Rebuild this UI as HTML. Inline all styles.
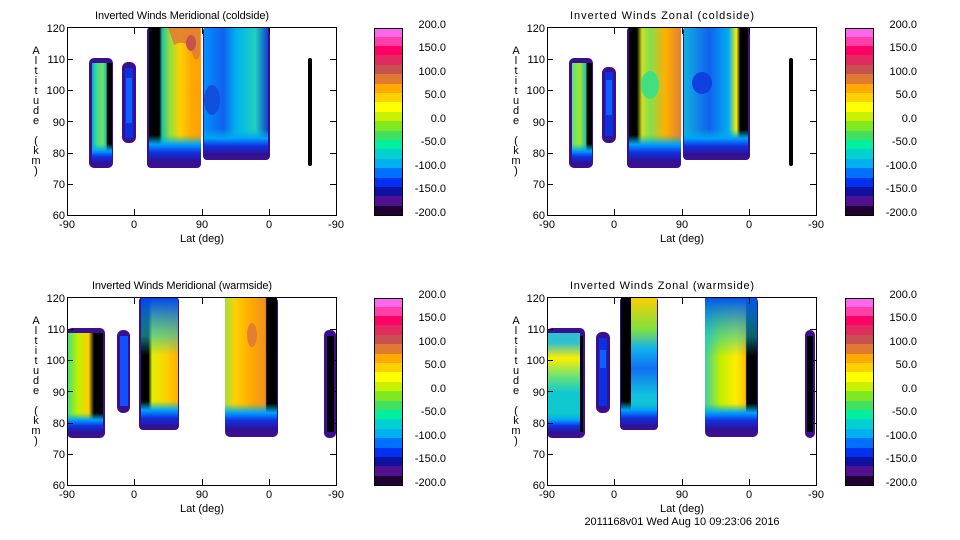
<!DOCTYPE html>
<html><head><meta charset="utf-8"><style>
html,body{margin:0;padding:0;background:#fff;width:960px;height:540px;overflow:hidden}
svg text{font-family:"Liberation Sans",sans-serif;font-size:11px;fill:#000}
</style></head><body>
<svg width="960" height="540" viewBox="0 0 960 540" xmlns="http://www.w3.org/2000/svg">
<defs>
<linearGradient id="bot" x1="0" y1="0" x2="0" y2="1">
<stop offset="0.8" stop-color="#00c0c0" stop-opacity="0"/><stop offset="0.87" stop-color="#00a0ff"/><stop offset="0.93" stop-color="#1030e0"/><stop offset="1" stop-color="#301090"/></linearGradient>
<linearGradient id="a1" x1="0" x2="1"><stop offset="0" stop-color="#00b0d0"/><stop offset="0.25" stop-color="#40e090"/><stop offset="0.55" stop-color="#70e060"/><stop offset="0.72" stop-color="#10c0c0"/><stop offset="0.75" stop-color="#000"/><stop offset="1" stop-color="#000"/></linearGradient>
<linearGradient id="a3" x1="0" x2="1"><stop offset="0" stop-color="#000"/><stop offset="0.2" stop-color="#000"/><stop offset="0.25" stop-color="#20c0a0"/><stop offset="0.4" stop-color="#90e040"/><stop offset="0.6" stop-color="#ffd000"/><stop offset="0.8" stop-color="#ffaa00"/><stop offset="1" stop-color="#ffa000"/></linearGradient>
<linearGradient id="a4" x1="0" x2="1"><stop offset="0" stop-color="#0090ff"/><stop offset="0.3" stop-color="#1060f0"/><stop offset="0.5" stop-color="#00b0f0"/><stop offset="0.8" stop-color="#20d0c0"/><stop offset="1" stop-color="#1040d0"/></linearGradient>
<linearGradient id="b1" x1="0" x2="1"><stop offset="0" stop-color="#60e080"/><stop offset="0.4" stop-color="#a0e830"/><stop offset="0.7" stop-color="#20c0b0"/><stop offset="0.75" stop-color="#000"/><stop offset="1" stop-color="#000"/></linearGradient>
<linearGradient id="b3" x1="0" x2="1"><stop offset="0" stop-color="#000"/><stop offset="0.15" stop-color="#000"/><stop offset="0.25" stop-color="#d0e020"/><stop offset="0.4" stop-color="#80e050"/><stop offset="0.7" stop-color="#ffb000"/><stop offset="1" stop-color="#e08030"/></linearGradient>
<linearGradient id="b4" x1="0" x2="1"><stop offset="0" stop-color="#10b0e0"/><stop offset="0.4" stop-color="#1060f0"/><stop offset="0.7" stop-color="#00b0f0"/><stop offset="0.82" stop-color="#ffee00"/><stop offset="0.88" stop-color="#000"/><stop offset="1" stop-color="#000"/></linearGradient>
<linearGradient id="c1" x1="0" x2="1"><stop offset="0" stop-color="#40e080"/><stop offset="0.3" stop-color="#c0f000"/><stop offset="0.6" stop-color="#ffd000"/><stop offset="0.75" stop-color="#000"/><stop offset="1" stop-color="#000"/></linearGradient>
<linearGradient id="c3" x1="0" x2="1"><stop offset="0" stop-color="#000"/><stop offset="0.2" stop-color="#000"/><stop offset="0.3" stop-color="#e0f000"/><stop offset="0.7" stop-color="#ffd000"/><stop offset="1" stop-color="#ffb000"/></linearGradient>
<linearGradient id="c3t" x1="0" x2="0" y1="0" y2="1"><stop offset="0" stop-color="#0040f0"/><stop offset="0.3" stop-color="#20c0c0" stop-opacity="0.6"/><stop offset="0.45" stop-color="#20c0c0" stop-opacity="0"/></linearGradient>
<linearGradient id="c4" x1="0" x2="1"><stop offset="0" stop-color="#a0e040"/><stop offset="0.2" stop-color="#ffd000"/><stop offset="0.5" stop-color="#ffaa00"/><stop offset="0.78" stop-color="#f09020"/><stop offset="0.8" stop-color="#000"/><stop offset="1" stop-color="#000"/></linearGradient>
<linearGradient id="d1" x1="0" x2="0" y1="0" y2="1"><stop offset="0.1" stop-color="#30c0d0"/><stop offset="0.25" stop-color="#ffee00"/><stop offset="0.45" stop-color="#60e080"/><stop offset="0.6" stop-color="#10c8d0"/><stop offset="1" stop-color="#10c8d0"/></linearGradient>
<linearGradient id="d3" x1="0" x2="0" y1="0" y2="1"><stop offset="0" stop-color="#ffd000"/><stop offset="0.25" stop-color="#80e040"/><stop offset="0.4" stop-color="#10b0f0"/><stop offset="0.55" stop-color="#1070f0"/><stop offset="0.75" stop-color="#10c0e0"/><stop offset="1" stop-color="#20d0c0"/></linearGradient>
<linearGradient id="d4" x1="0" x2="1"><stop offset="0" stop-color="#40d0a0"/><stop offset="0.3" stop-color="#c0f000"/><stop offset="0.6" stop-color="#ffee00"/><stop offset="0.78" stop-color="#ffc000"/><stop offset="0.8" stop-color="#000"/><stop offset="1" stop-color="#000"/></linearGradient>
<linearGradient id="d4t" x1="0" x2="0" y1="0" y2="1"><stop offset="0" stop-color="#0050f0"/><stop offset="0.3" stop-color="#10c0d0" stop-opacity="0.5"/><stop offset="0.45" stop-color="#10c0d0" stop-opacity="0"/></linearGradient>
</defs>

<!-- ===== Panel TL ===== -->
<g>
<rect x="89" y="58" width="24" height="110" rx="5" fill="#3a1090"/>
<rect x="92" y="63" width="20" height="101" fill="url(#a1)"/>
<rect x="92" y="63" width="20" height="101" fill="url(#bot)"/>
<rect x="122" y="62" width="14" height="81" rx="6" fill="#3a1090"/>
<rect x="125" y="68" width="8" height="70" fill="#0a30e0"/>
<rect x="126" y="78" width="6" height="45" fill="#1060ff"/>
<rect x="147" y="27" width="54" height="141" rx="4" fill="#3a1090"/>
<rect x="149" y="27" width="52" height="135" fill="url(#a3)"/>
<rect x="149" y="27" width="52" height="135" fill="url(#bot)"/>
<path d="M168 27h32v28q-4 10-8 -2q-5-15-18-8z" fill="#e08030" opacity="0.9"/>
<ellipse cx="191" cy="43" rx="5" ry="8" fill="#c85050"/>
<rect x="203" y="27" width="67" height="133" rx="4" fill="#3a1090"/>
<rect x="204" y="27" width="64" height="128" fill="url(#a4)"/>
<rect x="204" y="27" width="64" height="128" fill="url(#bot)"/>
<ellipse cx="212" cy="100" rx="8" ry="15" fill="#1050e0"/>
<rect x="308" y="58" width="4" height="108" rx="2" fill="#000"/>
</g>
<!-- ===== Panel TR ===== -->
<g>
<rect x="569" y="58" width="24" height="110" rx="5" fill="#3a1090"/>
<rect x="572" y="63" width="20" height="101" fill="url(#b1)"/>
<rect x="572" y="63" width="20" height="101" fill="url(#bot)"/>
<rect x="602" y="67" width="14" height="76" rx="6" fill="#3a1090"/>
<rect x="605" y="72" width="8" height="64" fill="#0a30e0"/>
<rect x="606" y="80" width="6" height="35" fill="#1060ff"/>
<rect x="627" y="27" width="54" height="141" rx="4" fill="#3a1090"/>
<rect x="629" y="27" width="52" height="135" fill="url(#b3)"/>
<rect x="629" y="27" width="52" height="135" fill="url(#bot)"/>
<ellipse cx="650" cy="85" rx="9" ry="14" fill="#40e080"/>
<rect x="683" y="27" width="67" height="133" rx="4" fill="#3a1090"/>
<rect x="684" y="27" width="64" height="128" fill="url(#b4)"/>
<rect x="684" y="27" width="64" height="128" fill="url(#bot)"/>
<ellipse cx="702" cy="83" rx="10" ry="11" fill="#1040e0"/>
<rect x="789" y="58" width="4" height="108" rx="2" fill="#000"/>
</g>
<!-- ===== Panel BL ===== -->
<g>
<rect x="67" y="328" width="38" height="110" rx="5" fill="#3a1090"/>
<rect x="67" y="333" width="36" height="100" fill="url(#c1)"/>
<rect x="67" y="333" width="36" height="100" fill="url(#bot)"/>
<rect x="117" y="330" width="13" height="83" rx="6" fill="#3a1090"/>
<rect x="120" y="336" width="8" height="70" fill="#1050ff"/>
<rect x="139" y="297" width="40" height="133" rx="4" fill="#3a1090"/>
<rect x="141" y="297" width="37" height="130" fill="url(#c3)"/>
<rect x="141" y="297" width="37" height="130" fill="url(#c3t)"/>
<rect x="141" y="297" width="37" height="130" fill="url(#bot)"/>
<rect x="225" y="297" width="53" height="140" rx="5" fill="#3a1090"/>
<rect x="225" y="297" width="52" height="133" fill="url(#c4)"/>
<rect x="225" y="297" width="52" height="133" fill="url(#bot)"/>
<ellipse cx="252" cy="335" rx="5" ry="12" fill="#e08030"/>
<rect x="324" y="330" width="12" height="108" rx="5" fill="#3a1090"/>
<rect x="327" y="336" width="7" height="96" fill="#000"/>
</g>
<!-- ===== Panel BR ===== -->
<g>
<rect x="547" y="328" width="38" height="110" rx="5" fill="#3a1090"/>
<rect x="547" y="333" width="33" height="100" fill="url(#d1)"/>
<rect x="547" y="333" width="33" height="100" fill="url(#bot)"/>
<rect x="580" y="336" width="3" height="96" fill="#000"/>
<rect x="596" y="332" width="14" height="81" rx="6" fill="#3a1090"/>
<rect x="599" y="338" width="8" height="68" fill="#0a30e0"/>
<rect x="600" y="350" width="6" height="18" fill="#1060ff"/>
<rect x="620" y="297" width="38" height="133" rx="4" fill="#3a1090"/>
<rect x="621" y="297" width="10" height="130" fill="#000"/>
<rect x="631" y="297" width="26" height="130" fill="url(#d3)"/>
<rect x="621" y="297" width="36" height="130" fill="url(#bot)"/>
<rect x="705" y="297" width="53" height="140" rx="5" fill="#3a1090"/>
<rect x="705" y="297" width="52" height="133" fill="url(#d4)"/>
<rect x="705" y="297" width="52" height="133" fill="url(#d4t)"/>
<rect x="705" y="297" width="52" height="133" fill="url(#bot)"/>
<rect x="805" y="330" width="10" height="108" rx="5" fill="#3a1090"/>
<rect x="807" y="336" width="6" height="96" fill="#000"/>
</g>

<!-- axes frames -->
<g fill="none" stroke="#000" stroke-width="1">
<rect x="67.5" y="27.5" width="269" height="188"/>
<rect x="547.5" y="27.5" width="269" height="188"/>
<rect x="67.5" y="297.5" width="269" height="188"/>
<rect x="547.5" y="297.5" width="269" height="188"/>
</g>
<g stroke="#000">
<path d="M134.5 215v-6M202.5 215v-6M269.5 215v-6M134.5 28v6M202.5 28v6M269.5 28v6M67 184.5h6M67 153.5h6M67 121.5h6M67 90.5h6M67 59.5h6M336 184.5h-6M336 153.5h-6M336 121.5h-6M336 90.5h-6M336 59.5h-6"/>
<path d="M614.5 215v-6M682.5 215v-6M749.5 215v-6M614.5 28v6M682.5 28v6M749.5 28v6M547 184.5h6M547 153.5h6M547 121.5h6M547 90.5h6M547 59.5h6M816 184.5h-6M816 153.5h-6M816 121.5h-6M816 90.5h-6M816 59.5h-6"/>
<path d="M134.5 485v-6M202.5 485v-6M269.5 485v-6M134.5 298v6M202.5 298v6M269.5 298v6M67 454.5h6M67 423.5h6M67 391.5h6M67 360.5h6M67 329.5h6M336 454.5h-6M336 423.5h-6M336 391.5h-6M336 360.5h-6M336 329.5h-6"/>
<path d="M614.5 485v-6M682.5 485v-6M749.5 485v-6M614.5 298v6M682.5 298v6M749.5 298v6M547 454.5h6M547 423.5h6M547 391.5h6M547 360.5h6M547 329.5h6M816 454.5h-6M816 423.5h-6M816 391.5h-6M816 360.5h-6M816 329.5h-6"/>
</g>

<text x="182" y="19" text-anchor="middle" textLength="174">Inverted Winds Meridional (coldside)</text>
<text x="662" y="19" text-anchor="middle" textLength="184">Inverted Winds Zonal (coldside)</text>
<text x="182" y="289" text-anchor="middle" textLength="180">Inverted Winds Meridional (warmside)</text>
<text x="662" y="289" text-anchor="middle" textLength="184">Inverted Winds Zonal (warmside)</text>

<g text-anchor="middle">
<text x="67" y="228">-90</text><text x="134" y="228">0</text><text x="202" y="228">90</text><text x="269" y="228">0</text><text x="336" y="228">-90</text>
<text x="547" y="228">-90</text><text x="614" y="228">0</text><text x="682" y="228">90</text><text x="749" y="228">0</text><text x="816" y="228">-90</text>
<text x="67" y="498">-90</text><text x="134" y="498">0</text><text x="202" y="498">90</text><text x="269" y="498">0</text><text x="336" y="498">-90</text>
<text x="547" y="498">-90</text><text x="614" y="498">0</text><text x="682" y="498">90</text><text x="749" y="498">0</text><text x="816" y="498">-90</text>
<text x="202" y="242">Lat (deg)</text><text x="682" y="242">Lat (deg)</text>
<text x="202" y="512">Lat (deg)</text><text x="682" y="512">Lat (deg)</text>
<text x="682" y="525">2011168v01 Wed Aug 10 09:23:06 2016</text>
</g>
<g text-anchor="end">
<text x="65" y="32">120</text><text x="65" y="63">110</text><text x="65" y="94">100</text><text x="65" y="126">90</text><text x="65" y="157">80</text><text x="65" y="188">70</text><text x="65" y="219">60</text>
<text x="545" y="32">120</text><text x="545" y="63">110</text><text x="545" y="94">100</text><text x="545" y="126">90</text><text x="545" y="157">80</text><text x="545" y="188">70</text><text x="545" y="219">60</text>
<text x="65" y="302">120</text><text x="65" y="333">110</text><text x="65" y="364">100</text><text x="65" y="396">90</text><text x="65" y="427">80</text><text x="65" y="458">70</text><text x="65" y="489">60</text>
<text x="545" y="302">120</text><text x="545" y="333">110</text><text x="545" y="364">100</text><text x="545" y="396">90</text><text x="545" y="427">80</text><text x="545" y="458">70</text><text x="545" y="489">60</text>
</g>
<g text-anchor="middle">
<text x="36" y="54">A</text><text x="36" y="64">l</text><text x="36" y="74">t</text><text x="36" y="84">i</text><text x="36" y="94">t</text><text x="36" y="104">u</text><text x="36" y="114">d</text><text x="36" y="124">e</text><text x="36" y="144">(</text><text x="36" y="154">k</text><text x="36" y="164">m</text><text x="36" y="174">)</text>
<text x="516" y="54">A</text><text x="516" y="64">l</text><text x="516" y="74">t</text><text x="516" y="84">i</text><text x="516" y="94">t</text><text x="516" y="104">u</text><text x="516" y="114">d</text><text x="516" y="124">e</text><text x="516" y="144">(</text><text x="516" y="154">k</text><text x="516" y="164">m</text><text x="516" y="174">)</text>
<text x="36" y="324">A</text><text x="36" y="334">l</text><text x="36" y="344">t</text><text x="36" y="354">i</text><text x="36" y="364">t</text><text x="36" y="374">u</text><text x="36" y="384">d</text><text x="36" y="394">e</text><text x="36" y="414">(</text><text x="36" y="424">k</text><text x="36" y="434">m</text><text x="36" y="444">)</text>
<text x="516" y="324">A</text><text x="516" y="334">l</text><text x="516" y="344">t</text><text x="516" y="354">i</text><text x="516" y="364">t</text><text x="516" y="374">u</text><text x="516" y="384">d</text><text x="516" y="394">e</text><text x="516" y="414">(</text><text x="516" y="424">k</text><text x="516" y="434">m</text><text x="516" y="444">)</text>
</g>

<g id="cb">
<rect x="374" y="28" width="29" height="10" fill="#ff66ee"/>
<rect x="374" y="37" width="29" height="10" fill="#ff3fa8"/>
<rect x="374" y="46" width="29" height="10" fill="#ff0066"/>
<rect x="374" y="55" width="29" height="10" fill="#e02a60"/>
<rect x="374" y="65" width="29" height="10" fill="#c85050"/>
<rect x="374" y="74" width="29" height="10" fill="#e07a30"/>
<rect x="374" y="84" width="29" height="10" fill="#ffaa00"/>
<rect x="374" y="93" width="29" height="10" fill="#ffd000"/>
<rect x="374" y="102" width="29" height="10" fill="#ffff00"/>
<rect x="374" y="112" width="29" height="10" fill="#c8f000"/>
<rect x="374" y="121" width="29" height="10" fill="#80e820"/>
<rect x="374" y="131" width="29" height="10" fill="#40e060"/>
<rect x="374" y="140" width="29" height="10" fill="#00f0a0"/>
<rect x="374" y="149" width="29" height="10" fill="#00d0d0"/>
<rect x="374" y="159" width="29" height="10" fill="#00b0f0"/>
<rect x="374" y="168" width="29" height="10" fill="#0070ff"/>
<rect x="374" y="178" width="29" height="10" fill="#0030f0"/>
<rect x="374" y="187" width="29" height="10" fill="#1010a0"/>
<rect x="374" y="196" width="29" height="10" fill="#501090"/>
<rect x="374" y="206" width="29" height="10" fill="#200030"/>
<rect x="374.5" y="28.5" width="28" height="187" fill="none" stroke="#000"/>
<g text-anchor="end">
<text x="446" y="28">200.0</text><text x="446" y="51">150.0</text><text x="446" y="75">100.0</text><text x="446" y="98">50.0</text><text x="446" y="122">0.0</text><text x="446" y="145">-50.0</text><text x="446" y="169">-100.0</text><text x="446" y="192">-150.0</text><text x="446" y="216">-200.0</text>
</g>
</g>
<use href="#cb" x="471" y="0"/>
<use href="#cb" x="0" y="270"/>
<use href="#cb" x="471" y="270"/>
</svg>
</body></html>
